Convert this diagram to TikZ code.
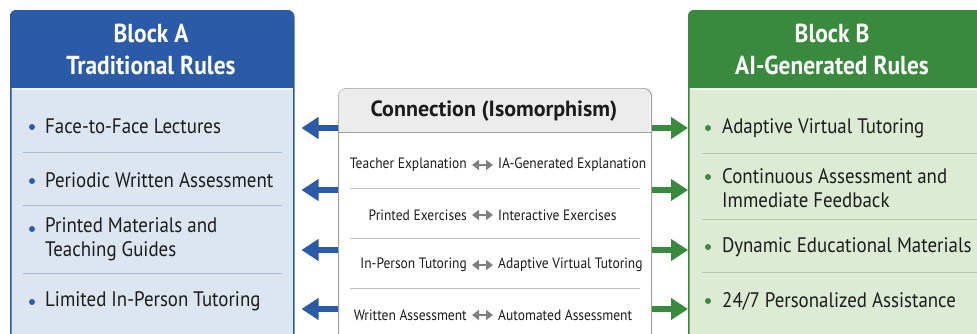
\documentclass[tikz,border=0pt]{standalone}
\usepackage{fontspec}
\setmainfont{PT Sans}[FakeStretch=0.9]
\newfontfamily\widefont{PT Sans}
\usepackage{xcolor}
\usetikzlibrary{arrows.meta}
\definecolor{blockblue}{HTML}{2B5BA6}
\definecolor{bodyblue}{HTML}{DCE5F0}
\definecolor{sepblue}{HTML}{A9BCD6}
\definecolor{blockgreen}{HTML}{3A8A3E}
\definecolor{bodygreen}{HTML}{DDEBD5}
\definecolor{sepgreen}{HTML}{AFCBA3}
\definecolor{boxgray}{HTML}{A0A0A0}
\definecolor{headgray}{HTML}{ECECEC}
\definecolor{txt}{HTML}{1C1C1C}

\begin{document}
\begin{tikzpicture}[x=1pt, y=-1pt,
    title/.style={align=center, text=white, font=\fontsize{26}{32}\selectfont\bfseries},
    item/.style={anchor=west, inner sep=0pt, align=left, text=txt, font=\fontsize{21}{24}\selectfont},
    pair/.style={inner sep=0pt, text=txt, font=\fontsize{15}{18}\selectfont},
    blockarrow/.style={line width=6pt, -{Triangle[length=17pt, width=21pt]}}]
    \useasboundingbox (0,0) rectangle (977,333);
    \clip (0,0) rectangle (977,333);

    % Block A
    \node[draw=blockblue, fill=bodyblue, line width=1.5pt, rounded corners=6pt, inner sep=0pt,
          minimum width=283pt, minimum height=360pt, anchor=north west] (blockA) at (10,10) {};
    \fill[blockblue, rounded corners=6pt] (10,10) rectangle (293,88);
    \fill[blockblue] (10,50) rectangle (293,88);
    \draw[white!60!bodyblue, line width=2pt] (11.5,89) -- (291.5,89);
    \node[title] (titleA) at (151,49) {Block A\\Traditional Rules};

    \node[item] (a1) at (45,126) {Face-to-Face Lectures};
    \node[item] (a2) at (45,180) {Periodic Written Assessment};
    \node[item] (a3) at (45,239) {Printed Materials and\\Teaching Guides};
    \node[item] (a4) at (45,301) {Limited In-Person Tutoring};
    \foreach \y in {127,181,229,302}
        \fill[blockblue] (32,\y) circle (3pt);
    \foreach \y in {152,205,273}
        \draw[sepblue, line width=0.8pt] (23,\y) -- (282,\y);

    % Block B
    \node[draw=blockgreen, fill=bodygreen, line width=1.5pt, rounded corners=6pt, inner sep=0pt,
          minimum width=300pt, minimum height=360pt, anchor=north west] (blockB) at (688,10) {};
    \fill[blockgreen, rounded corners=6pt] (688,10) rectangle (988,88);
    \fill[blockgreen] (688,50) rectangle (988,88);
    \draw[white!60!bodygreen, line width=2pt] (689.5,89) -- (986,89);
    \node[title] (titleB) at (832,49) {Block B\\AI-Generated Rules};

    \node[item] (b1) at (722,128) {Adaptive Virtual Tutoring};
    \node[item] (b2) at (722,188) {Continuous Assessment and\\Immediate Feedback};
    \node[item] (b3) at (722,247) {Dynamic Educational Materials};
    \node[item] (b4) at (722,301) {24/7 Personalized Assistance};
    \foreach \y in {128,177,247,301}
        \fill[blockgreen] (708,\y) circle (3pt);
    \foreach \y in {153,219,272}
        \draw[sepgreen, line width=0.8pt] (702,\y) -- (977,\y);

    % Connection box
    \node[draw=boxgray, fill=white, line width=1.2pt, rounded corners=8pt, inner sep=0pt,
          minimum width=313pt, minimum height=270pt, anchor=north west] (conn) at (338,88) {};
    \fill[headgray, rounded corners=8pt] (338.6,88.6) rectangle (650.4,132);
    \fill[headgray] (338.6,110) rectangle (650.4,132);
    \draw[boxgray, line width=1pt] (338,132) -- (651,132);
    \node[font=\widefont\fontsize{22}{24}\selectfont\bfseries, text=txt] (conntitle) at (494,111) {Connection (Isomorphism)};

    \node[pair, anchor=east] (l1) at (467,165) {Teacher Explanation};
    \node[pair, anchor=west] (r1) at (498,165) {IA-Generated Explanation};
    \node[pair, anchor=east] (l2) at (467,215) {Printed Exercises};
    \node[pair, anchor=west] (r2) at (498,215) {Interactive Exercises};
    \node[pair, anchor=east] (l3) at (467,265) {In-Person Tutoring};
    \node[pair, anchor=west] (r3) at (498,265) {Adaptive Virtual Tutoring};
    \node[pair, anchor=east] (l4) at (467,315) {Written Assessment};
    \node[pair, anchor=west] (r4) at (498,315) {Automated Assessment};
    \foreach \i in {1,...,4}
        \draw[gray, line width=2.2pt, {Triangle[length=7pt, width=10pt]}-{Triangle[length=7pt, width=10pt]}]
            ([xshift=5pt]l\i.east) -- ([xshift=-5pt]r\i.west);
    \foreach \y in {188,238,288}
        \draw[black!25, line width=0.8pt] (350,\y) -- (640,\y);

    % Arrows to the blocks
    \foreach \y in {128,190,250,309} {
        \draw[blockblue, blockarrow] (conn.west |- 0,\y) -- ([xshift=7pt]blockA.east |- 0,\y);
        \draw[blockgreen, blockarrow] (conn.east |- 0,\y) -- (blockB.west |- 0,\y);
    }
\end{tikzpicture}
\end{document}
